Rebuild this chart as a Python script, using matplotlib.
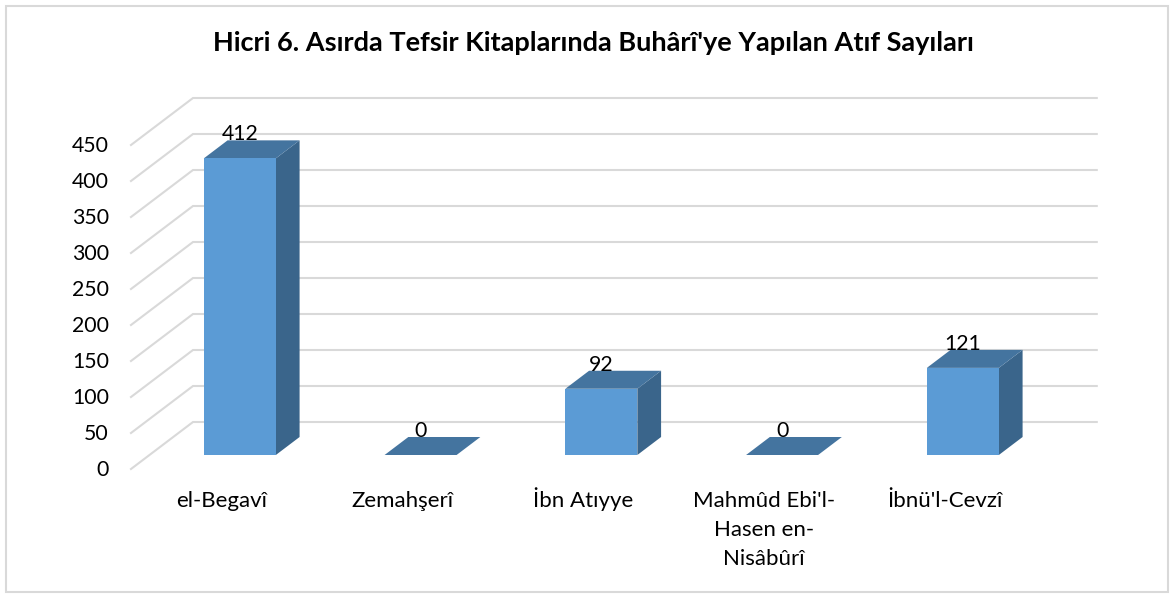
import matplotlib
matplotlib.use("Agg")
import matplotlib.pyplot as plt
from matplotlib.patches import Polygon, Rectangle

categories = ["el-Begavî", "Zemahşerî", "İbn Atıyye", "Mahmûd Ebi'l-\nHasen en-\nNisâbûrî", "İbnü'l-Cevzî"]
values = [412, 0, 92, 0, 121]
y_ticks = [0, 50, 100, 150, 200, 250, 300, 350, 400, 450]
title = "Hicri 6. Asırda Tefsir Kitaplarında Buhârî'ye Yapılan Atıf Sayıları"

W, H = 1174, 596
BAND = 180.75
PXV = 0.72
X0, Y0 = 131.0, 469.0
DX, DY = 62.0 / BAND, 47.0 / PXV

plt.rcParams["font.family"] = ["Lato", "DejaVu Sans"]
fig = plt.figure(figsize=(W / 100, H / 100), dpi=100, facecolor="white")
ax = fig.add_axes([0, 0, 1, 1])
ax.set_xlim(-0.5 - X0 / BAND, -0.5 + (W - X0) / BAND)
ax.set_ylim(-(H - Y0) / PXV, Y0 / PXV)
ax.axis("off")


def p(x, v, d):
    return (x + DX * d, v + DY * d)


GRID = "#d9d9d9"
n = len(categories)
FS = 15.3
for t in y_ticks:
    ax.plot(*zip(p(-0.5, t, 0), p(-0.5, t, 1), p(n - 0.5, t, 1)), color=GRID, lw=1.5,
            solid_joinstyle="miter", zorder=1)
    ax.text(-0.5 - 22 / BAND, t - 1 / PXV, str(t), ha="right", va="center", fontsize=FS, color="black", zorder=5)

half = 36.0 / BAND
d0, d1 = 14 / 47, 32 / 47
for i, (c, v) in enumerate(zip(categories, values)):
    l, r = i - half, i + half
    ax.add_patch(Polygon([p(r, 0, d0), p(r, 0, d1), p(r, v, d1), p(r, v, d0)], fc="#3a658b", ec="none", zorder=3))
    ax.add_patch(Polygon([p(l, v, d0), p(l, v, d1), p(r, v, d1), p(r, v, d0)], fc="#44749f", ec="none", zorder=3))
    ax.add_patch(Polygon([p(l, 0, d0), p(r, 0, d0), p(r, v, d0), p(l, v, d0)], fc="#5b9bd5", ec="none", zorder=4))
    tx, ty = p(i, v, d1)
    ax.text(i + DX * d0, ty + 6 / PXV, str(v), ha="center", va="center", fontsize=FS, color="black", zorder=6)
    for k, line in enumerate(c.split("\n")):
        ax.text(i + DX * d0 - 18 / BAND, (Y0 - 507 - 29 * k) / PXV, line, ha="center", va="baseline", fontsize=16,
                color="black", zorder=5)

ax.text((593 - X0) / BAND - 0.5, (Y0 - 43) / PXV, title, ha="center", va="center", fontsize=19.55, fontweight="bold",
        color="black")

ax.add_patch(Rectangle((0.005, 0.006), 0.99, 0.984, transform=ax.transAxes, fc="none", ec="#d9d9d9", lw=1.5, zorder=0))
fig.savefig("out.png", dpi=100, facecolor="white")
